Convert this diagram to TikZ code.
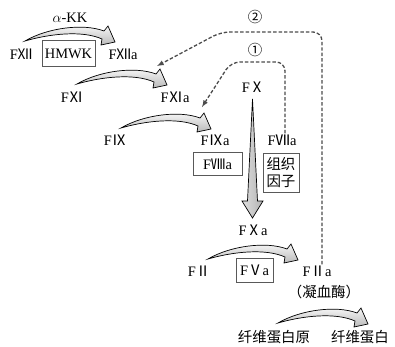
\documentclass[tikz,border=0pt]{standalone}
\usepackage{fontspec}
\setmainfont{Liberation Serif}
\newfontfamily\cjk{Noto Sans CJK SC}
\newcommand\fac[1]{F{\cjk #1}}
\tikzset{
  lbl/.style={inner sep=1pt,font=\fontsize{14.5}{16}\selectfont},
  zh/.style={inner sep=1pt,font=\fontsize{14.5}{17}\selectfont\cjk},
  cbox/.style={draw=gray!70!black,line width=0.9pt,inner sep=0pt},
  dpath/.style={draw=gray!60!black,line width=1.3pt,dash pattern=on 3.5pt off 2pt,rounded corners=9},
  swoosh/.pic={
    \draw[line width=0.7pt,top color=white,bottom color=gray!55]
      (0,0) .. controls (22,-13) and (58,-18) .. (79,-10) -- (83,-15)
      -- (90,1) -- (76,4) -- (77,-2)
      .. controls (57,-11) and (24,-7) .. (0,0) -- cycle;
  }
}
\begin{document}
\begin{tikzpicture}[x=1bp,y=-1bp,>=latex]
  \useasboundingbox (0,0) rectangle (395,347);
  % intrinsic chain
  \node[lbl] (ka) at (70,18) {$\alpha$-KK};
  \node[lbl] (f12) at (21,54) {\fac{Ⅻ}};
  \node[cbox,minimum width=53bp,minimum height=26bp,lbl] (hmwk) at (68.5,53.5) {HMWK};
  \node[lbl] (f12a) at (123,54) {\fac{Ⅻ}a};
  \pic at (25,41) {swoosh};
  \node[lbl] (f11) at (72,97) {\fac{Ⅺ}};
  \node[lbl] (f11a) at (175,97) {\fac{Ⅺ}a};
  \pic at (77,84) {swoosh};
  \node[lbl] (f9) at (115,140) {\fac{Ⅸ}};
  \node[lbl] (f9a) at (215,140) {\fac{Ⅸ}a};
  \pic at (121,128) {swoosh};
  \node[cbox,minimum width=49bp,minimum height=23bp,lbl] (f8a) at (217.5,164) {\fac{Ⅷ}a};
  % extrinsic
  \node[lbl] (f7a) at (282,140) {\fac{Ⅶ}a};
  \node[cbox,minimum width=36bp,minimum height=39bp,zh,align=center] (tf) at (281,172.5) {组织\\因子};
  % common pathway
  \node[lbl] (f10) at (253,87) {\fac{Ⅹ}};
  \node[lbl] (f10a) at (253,230) {\fac{Ⅹ}a};
  \draw[line width=0.7pt,left color=gray!25,right color=gray!60]
    (252.5,99) -- (257.5,201) -- (263,201) -- (252.5,218) -- (242,201) -- (247.5,201) -- cycle;
  \node[lbl] (f2) at (199,271) {\fac{Ⅱ}};
  \node[cbox,minimum width=37bp,minimum height=24bp,lbl] (f5a) at (254.5,270) {\fac{Ⅴ}a};
  \node[lbl] (f2a) at (317,271) {\fac{Ⅱ}a};
  \node[zh] (thr) at (324,292) {（凝血酶）};
  \pic at (208,259) {swoosh};
  \node[zh] (fbg) at (274,337) {纤维蛋白原};
  \node[zh] (fbn) at (360,337) {纤维蛋白};
  \pic at (278,323) {swoosh};
  % feedback loops
  \node[zh] (n1) at (255,50) {①};
  \node[zh] (n2) at (255,17) {②};
  \coordinate (t1) at (202,107);
  \coordinate (t2) at (157,66);
  \draw[dpath,->] (f7a.north -| 285,0) -- (285,62) -- (231,62) -- (t1);
  \draw[dpath,->] (f2a.north -| 322,0) -- (322,32) -- (221,32) -- (t2);
\end{tikzpicture}
\end{document}
